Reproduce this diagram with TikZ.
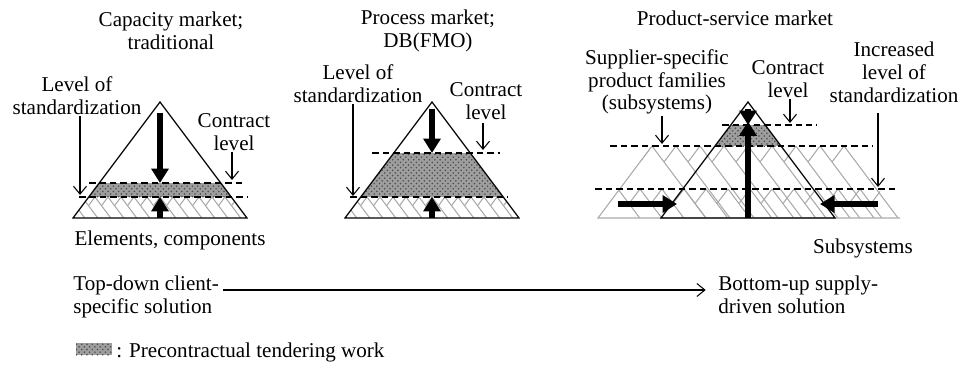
\documentclass[tikz,border=0pt]{standalone}
\usepackage{fontspec}
\setmainfont{Liberation Serif}
\usepackage{tikz}
\usetikzlibrary{arrows.meta,patterns}
\definecolor{hatchGray}{RGB}{170,170,170}

\begin{document}
\begin{tikzpicture}[
    x=0.02cm, y={(0,-0.02cm)},
    font=\fontsize{12}{13}\selectfont,
    label node/.style={align=center, inner sep=0pt},
    pyramid/.style={draw=black, line width=0.7pt},
    level line/.style={dashed, dash pattern=on 1.3mm off 0.8mm, line width=0.6pt},
    hatch/.style={draw=hatchGray, line width=0.6pt},
    tender/.style={fill=black!38, postaction={pattern=crosshatch dots, pattern color=black!70}},
    big arrow/.style={line width=1.1mm, -{Triangle[width=3.4mm, length=2.9mm]}},
    pointer/.style={line width=0.6pt, -{Straight Barb[length=1.6mm, width=2.6mm]}}
]
  \useasboundingbox (0,0) rectangle (962,368);

  %% capacity market
  \begin{scope}[shift={(160,0)}]
    \coordinate (capTop) at (0,102);
    \coordinate (capL) at (-87,218);
    \coordinate (capR) at (87,218);
    \begin{scope}
      \clip (capTop) -- (capL) -- (capR) -- cycle;
      \fill[tender] (-90,183) rectangle (90,197);
      \foreach \x in {-91,-78,...,91} {
        \draw[hatch] (\x,197) -- ++(15.75,21);
        \draw[hatch] (\x,197) -- ++(-6.5,8.7);
      }
    \end{scope}
    \draw[pyramid] (capTop) -- (capL) -- (capR) -- cycle;
    \coordinate (capUpL) at (-71,183);
    \coordinate (capUpR) at (83,183);
    \coordinate (capLoL) at (-81,197);
    \coordinate (capLoR) at (87,197);
    \draw[level line] (capUpL) -- (capUpR);
    \draw[level line] (capLoL) -- (capLoR);
    \coordinate (capMid) at (0,183);
    \coordinate (capLow) at (0,197);
    \draw[big arrow] ([yshift=-6]capTop) -- (capMid);
    \draw[big arrow] (0,218) -- (capLow);
  \end{scope}
  \node[label node] (capTitle) at (171,30.5) {Capacity market;\\traditional};
  \node[label node] (capStd) at (77,96) {Level of\\standardization};
  \node[label node] (capCon) at (234,132) {Contract\\level};
  \node[label node] (capBase) at (170,240) {Elements, components};
  \draw[pointer] (80,116) -- (80,195);
  \draw[pointer] (232,152) -- (232,180);

  %% process market
  \begin{scope}[shift={(432,0)}]
    \coordinate (proTop) at (0,102);
    \coordinate (proL) at (-87,218);
    \coordinate (proR) at (87,218);
    \begin{scope}
      \clip (proTop) -- (proL) -- (proR) -- cycle;
      \fill[tender] (-90,153) rectangle (90,197);
      \foreach \x in {-91,-78,...,91} {
        \draw[hatch] (\x,197) -- ++(15.75,21);
        \draw[hatch] (\x,197) -- ++(-6.5,8.7);
      }
    \end{scope}
    \draw[pyramid] (proTop) -- (proL) -- (proR) -- cycle;
    \draw[level line] (-60,153) -- (68,153);
    \draw[level line] (-82,197) -- (76,197);
    \coordinate (proMid) at (0,153);
    \coordinate (proLow) at (0,197);
    \draw[big arrow] ([yshift=-4]proTop) -- (proMid);
    \draw[big arrow] (0,218) -- (proLow);
  \end{scope}
  \node[label node] (proTitle) at (428,31) {Process market;\\DB(FMO)};
  \node[label node] (proStd) at (358,84) {Level of\\standardization};
  \node[label node] (proCon) at (486,101) {Contract\\level};
  \draw[pointer] (353,104) -- (353,196);
  \draw[pointer] (483,123) -- (483,150);

  %% product-service market
  \begin{scope}[shift={(748,0)}]
    % supplier families in the background
    \begin{scope}
      \clip (-150,218) -- (-96,146) -- (98,146) -- (152,218) -- cycle;
      \foreach \a in {-96,-72,...,98} {
        \draw[hatch] (\a,146) -- ++(54,72);
        \draw[hatch] (\a,146) -- ++(-12,16);
      }
      \foreach \a in {-130,-108,...,150} {
        \draw[hatch] (\a,189) -- ++(21.75,29);
        \draw[hatch] (\a,189) -- ++(-11,14.5);
      }
    \end{scope}
    \draw[hatch] (-96,146) -- (-150,218) -- (152,218);
    \coordinate (srvTop) at (0,102);
    \coordinate (srvL) at (-87,218);
    \coordinate (srvR) at (87,218);
    \begin{scope}
      \clip (srvTop) -- (srvL) -- (srvR) -- cycle;
      \fill[tender] (-60,125) rectangle (60,146);
    \end{scope}
    \draw[pyramid] (srvTop) -- (srvL) -- (srvR) -- cycle;
    \draw[level line] (-26,125) -- (69,125);
    \draw[level line] (-138,146) -- (125,146);
    \draw[level line] (-153,189) -- (147,189);
    \coordinate (srvMid) at (0,125);
    \draw[big arrow] ([yshift=-4]srvTop) -- (srvMid);
    \draw[big arrow] (0,218) -- ([yshift=2]srvMid);
    \coordinate (leftIn) at (-130,204);
    \coordinate (rightIn) at (130,204);
    \draw[big arrow] (leftIn) -- (-71,204);
    \draw[big arrow] (rightIn) -- (72,204);
  \end{scope}
  \node[label node] (srvTitle) at (735,18) {Product-service market};
  \node[label node] (srvFam) at (657,82) {Supplier-specific\\product families\\(subsystems)};
  \node[label node] (srvCon) at (788,79) {Contract\\level};
  \node[label node] (srvStd) at (894,72) {Increased\\level of\\standardization};
  \node[label node] (srvBase) at (863,248) {Subsystems};
  \draw[pointer] (662,116) -- (662,144);
  \draw[pointer] (790,99) -- (790,123);
  \draw[pointer] (878,113) -- (878,187);

  %% direction of the solution
  \node[inner sep=0pt, anchor=base west] (topDown) at (73,290) {Top-down client-};
  \node[inner sep=0pt, anchor=base west] (topDownB) at (73,313) {specific solution};
  \node[inner sep=0pt, anchor=base west] (bottomUp) at (718,290) {Bottom-up supply-};
  \node[inner sep=0pt, anchor=base west] (bottomUpB) at (718,313) {driven solution};
  \draw[pointer] ([xshift=2]topDown.base east) -- ([xshift=-7]bottomUp.base west);

  %% legend
  \node[tender, minimum width=0.72cm, minimum height=0.24cm, inner sep=0pt] (swatch) at (94,349) {};
  \node[inner sep=0pt, anchor=base west] (legendText) at (116,357) {: Precontractual tendering work};
\end{tikzpicture}
\end{document}
